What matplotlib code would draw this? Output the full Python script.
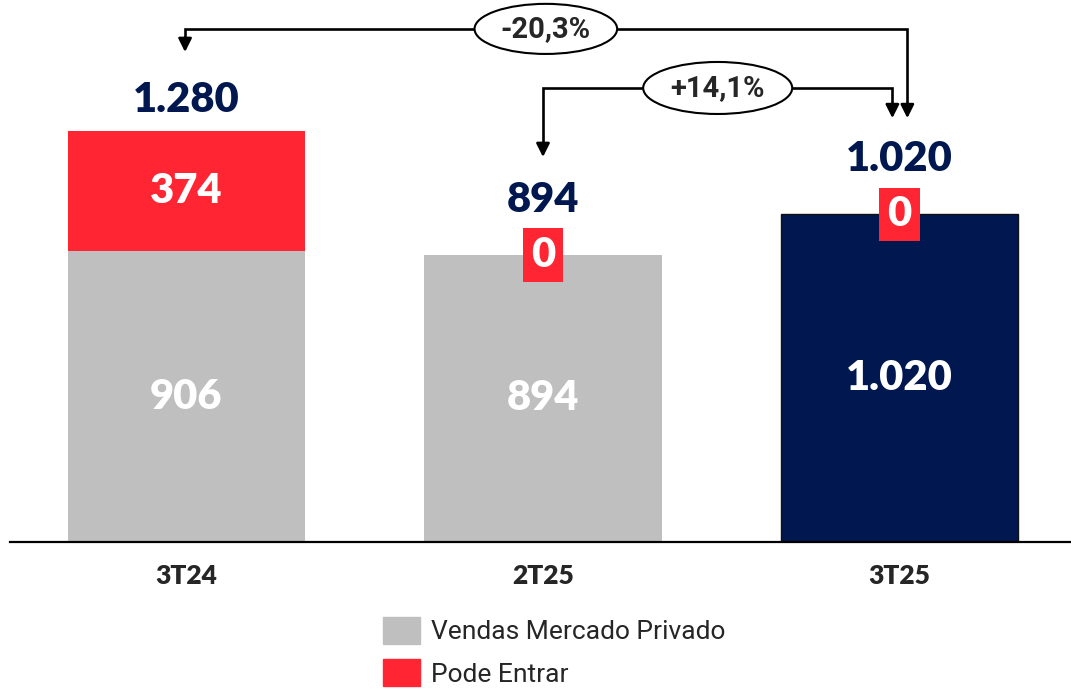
import matplotlib.pyplot as plt
from matplotlib.patches import Ellipse, Patch
import numpy as np

# data
categories = ['3T24', '2T25', '3T25']
vendas = [906, 894, 1020]
pode_entrar = [374, 0, 0]
legend_labels = ['Vendas Mercado Privado', 'Pode Entrar']

gray = '#BFBFBF'
red = '#FF2533'
navy = '#00174F'
dark = '#262626'


def fmt(v):
    return f'{v:,.0f}'.replace(',', '.')


def fmt_pct(v):
    return f'{v:+.1f}%'.replace('.', ',')


totals = [a + b for a, b in zip(vendas, pode_entrar)]
x = np.arange(len(categories))
bar_colors = [gray, gray, navy]

fig = plt.figure(figsize=(10.71, 6.89), dpi=100)
ax = fig.add_axes([10 / 1071, 147 / 689, 1061 / 1071, 542 / 689])
ax.set_xlim(-0.495, 2.481)
ax.set_ylim(0, 1688)
ax.axis('off')
ax.axhline(0, color='black', lw=1.6, clip_on=False)

ax.bar(x, vendas, width=0.665, color=bar_colors,
       edgecolor=['none', 'none', '#111111'], linewidth=1)
ax.bar(x, pode_entrar, bottom=vendas, width=0.665, color=red)

num_font = 'Lato'
big = 30
for i in range(len(categories)):
    # value inside lower segment
    ax.text(x[i], vendas[i] / 2, fmt(vendas[i]), ha='center', va='center',
            color='white', fontsize=big, fontweight='heavy', family=num_font)
    # pode entrar segment
    if pode_entrar[i] > 0:
        ax.text(x[i], vendas[i] + pode_entrar[i] / 2, fmt(pode_entrar[i]),
                ha='center', va='center', color='white', fontsize=big,
                fontweight='heavy', family=num_font)
        off = 96
    else:
        ax.text(x[i], vendas[i], '0', ha='center', va='center',
                color='white', fontsize=big, fontweight='heavy', family=num_font,
                bbox=dict(boxstyle='square,pad=0.19', fc=red, ec='none'))
        off = 172
    ax.text(x[i], totals[i] + off, fmt(totals[i]), ha='center', va='center',
            color=navy, fontsize=big, fontweight='heavy', family=num_font)
    ax.text(x[i], -107, categories[i], ha='center', va='center', color=dark,
            fontsize=19, fontweight='heavy', family=num_font)


def bracket(x0, x1, y_line, tip0, tip1, cx, ew, eh, label):
    ax.plot([x0, x0, x1, x1], [tip0 + 40, y_line, y_line, tip1 + 40],
            color='black', lw=1.9, clip_on=False, solid_joinstyle='miter')
    for xx, tt in [(x0, tip0), (x1, tip1)]:
        ax.annotate('', xy=(xx, tt), xytext=(xx, tt + 45),
                    arrowprops=dict(arrowstyle='-|>', color='black', lw=1.9,
                                    mutation_scale=20, shrinkA=0, shrinkB=0),
                    annotation_clip=False)
    ax.add_patch(Ellipse((cx, y_line), ew, eh, fc='white', ec='black',
                         lw=1.5, clip_on=False, zorder=5))
    ax.text(cx, y_line, label, ha='center', va='center', fontsize=21,
            fontweight='bold', family='Roboto', color=dark, zorder=6)


# -20,3%  (3T25 vs 3T24)
bracket(x[0] - 0.004, x[2] + 0.022, 1598, 1526, 1320, 1.008, 0.40, 156,
        fmt_pct((totals[2] / totals[0] - 1) * 100))
# +14,1%  (3T25 vs 2T25)
bracket(x[1], x[2] - 0.02, 1414, 1199, 1320, 1.49, 0.418, 162,
        fmt_pct((totals[2] / totals[1] - 1) * 100))

handles = [Patch(color=gray), Patch(color=red)]
fig.legend(handles, legend_labels, loc='upper left',
           bbox_to_anchor=(372 / 1071, 1 - 606 / 689), frameon=False,
           handlelength=1.4, handleheight=1.2, labelspacing=0.58,
           handletextpad=0.45, borderaxespad=0,
           prop={'family': 'Roboto', 'size': 19})
for t in fig.legends[0].get_texts():
    t.set_color(dark)

fig.savefig('out.png', dpi=100)
